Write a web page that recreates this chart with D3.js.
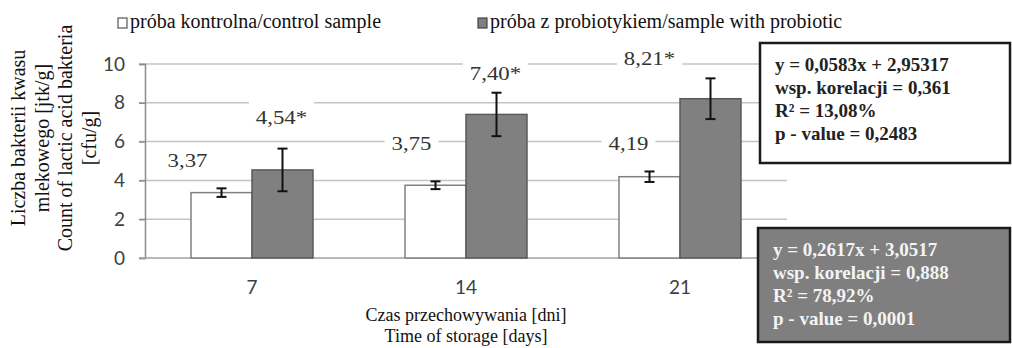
<!DOCTYPE html>
<html>
<head>
<meta charset="utf-8">
<script src="https://cdn.jsdelivr.net/npm/d3@7"></script>
<style>
  body { margin: 0; background: #fff; }
  svg { display: block; }
  .serif { font-family: "Liberation Serif", "DejaVu Serif", serif; }
  .sans { font-family: Lato, "Liberation Sans", sans-serif; }
</style>
</head>
<body>
<div class="canva"></div>
<script>
// data
const days = ["7", "14", "21"];
const seriesNames = ["próba kontrolna/control sample", "próba z probiotykiem/sample with probiotic"];
const control = [3.37, 3.75, 4.19];
const probiotic = [4.54, 7.40, 8.21];
const controlErr = [0.22, 0.20, 0.27];
const probioticErr = [1.10, 1.12, 1.05];
const significant = [false, true]; // "*" after the probiotic values
const yTicks = [0, 2, 4, 6, 8, 10];
const yTitle = ["Liczba bakterii kwasu", "mlekowego [jtk/g]", "Count of lactic acid bakteria", "[cfu/g]"];
const xTitle = ["Czas przechowywania [dni]", "Time of storage [days]"];
const statsControl = ["y = 0,0583x + 2,95317", "wsp. korelacji = 0,361", "R² = 13,08%", "p - value = 0,2483"];
const statsProbiotic = ["y = 0,2617x + 3,0517", "wsp. korelacji = 0,888", "R² = 78,92%", "p - value = 0,0001"];

// label placement (layout only): [dx px from bar centre, height in y units]
const labelNudge = [
  [[-34, 5.05], [-24, 5.93], [-21, 5.93]],
  [[-1, 7.27], [-1, 9.54], [-61, 10.3]]
];

const W = 1012, H = 348;
const plot = { left: 145, right: 787, top: 64, bottom: 258 };
const fillColors = ["#ffffff", "#808080"];
const strokeColors = ["#808080", "#5a5a5a"];

const pl = d3.formatLocale({ decimal: ",", thousands: " ", grouping: [3], currency: ["", ""] });
const fmt = pl.format(".2f");

const svg = d3.select(".canva").append("svg").attr("width", W).attr("height", H);

const y = d3.scaleLinear().domain([0, 10]).range([plot.bottom, plot.top]);
const x0 = d3.scaleBand().domain(days).range([plot.left, plot.right]).padding(0);
const groupW = x0.bandwidth() * 0.57;
const x1 = d3.scaleBand().domain([0, 1]).range([0, groupW]).padding(0);

// gridlines
svg.append("g")
  .selectAll("line")
  .data(yTicks.slice(1))
  .join("line")
  .attr("x1", plot.left - 6).attr("x2", plot.right)
  .attr("y1", d => y(d)).attr("y2", d => y(d))
  .attr("stroke", "#c4c4c4").attr("stroke-width", 1.5);

// y axis
const yAxis = svg.append("g")
  .attr("transform", `translate(${plot.left},0)`)
  .call(d3.axisLeft(y).tickValues(yTicks).tickSize(6).tickPadding(14));
yAxis.select(".domain").attr("stroke", "#8c8c8c").attr("stroke-width", 1.5);
yAxis.selectAll(".tick line").attr("stroke", "#8c8c8c").attr("stroke-width", 1.5);
yAxis.selectAll(".tick text")
  .attr("class", "sans").attr("font-size", 19).attr("fill", "#404040");

// x baseline
svg.append("line")
  .attr("x1", plot.left - 6).attr("x2", plot.right)
  .attr("y1", y(0)).attr("y2", y(0))
  .attr("stroke", "#a0a0a0").attr("stroke-width", 1.5);

// x tick labels
svg.append("g")
  .selectAll("text")
  .data(days)
  .join("text")
  .attr("class", "sans")
  .attr("x", d => x0(d) + x0.bandwidth() / 2)
  .attr("y", y(0) + 36)
  .attr("text-anchor", "middle")
  .attr("font-size", 19)
  .attr("fill", "#404040")
  .text(d => d);

// bars
const rows = days.map((d, i) => ({
  day: d,
  vals: [
    { s: 0, v: control[i], e: controlErr[i], i: i },
    { s: 1, v: probiotic[i], e: probioticErr[i], i: i }
  ]
}));

const groups = svg.append("g")
  .selectAll("g")
  .data(rows)
  .join("g")
  .attr("transform", d => `translate(${x0(d.day) + x0.bandwidth() / 2 - groupW / 2},0)`);

groups.selectAll("rect")
  .data(d => d.vals)
  .join("rect")
  .attr("x", d => x1(d.s))
  .attr("y", d => y(d.v))
  .attr("width", x1.bandwidth())
  .attr("height", d => y(0) - y(d.v))
  .attr("fill", d => fillColors[d.s])
  .attr("stroke", d => strokeColors[d.s])
  .attr("stroke-width", 1.5);

// error bars
const err = groups.selectAll("g.err")
  .data(d => d.vals)
  .join("g")
  .attr("class", "err")
  .attr("transform", d => `translate(${x1(d.s) + x1.bandwidth() / 2},0)`)
  .attr("stroke", "#111").attr("stroke-width", 2);
err.append("line").attr("y1", d => y(d.v + d.e)).attr("y2", d => y(d.v - d.e));
err.append("line").attr("x1", -5).attr("x2", 5).attr("y1", d => y(d.v + d.e)).attr("y2", d => y(d.v + d.e));
err.append("line").attr("x1", -5).attr("x2", 5).attr("y1", d => y(d.v - d.e)).attr("y2", d => y(d.v - d.e));

// value labels with white background
const lab = groups.selectAll("g.lab")
  .data(d => d.vals)
  .join("g")
  .attr("class", "lab")
  .attr("transform", d => {
    const n = labelNudge[d.s][d.i];
    return `translate(${x1(d.s) + x1.bandwidth() / 2 + n[0]},${y(n[1])})`;
  });
lab.append("text")
  .attr("class", "serif")
  .attr("text-anchor", "middle")
  .attr("dy", "0.35em")
  .attr("font-size", 19)
  .attr("fill", "#333")
  .attr("transform", "scale(1.2,1)")
  .text(d => fmt(d.v) + (significant[d.s] ? "*" : ""));
lab.each(function() {
  const g = d3.select(this);
  const b = g.select("text").node().getBBox();
  g.insert("rect", "text")
    .attr("x", b.x * 1.2 - 7).attr("width", b.width * 1.2 + 14)
    .attr("y", -16).attr("height", 29)
    .attr("fill", "#fff");
});

// legend
const legX = [118, 478];
const leg = svg.append("g")
  .selectAll("g")
  .data(seriesNames)
  .join("g")
  .attr("transform", (d, i) => `translate(${legX[i]},18)`);
leg.append("rect")
  .attr("width", 9).attr("height", 10)
  .attr("fill", (d, i) => fillColors[i])
  .attr("stroke", (d, i) => i ? "#444" : "#555").attr("stroke-width", 1.2);
leg.append("text")
  .attr("class", "serif")
  .attr("x", 12).attr("y", 10)
  .attr("font-size", 20)
  .attr("fill", "#111")
  .text(d => d);

// axis titles
svg.append("g")
  .selectAll("text")
  .data(yTitle)
  .join("text")
  .attr("class", "serif")
  .attr("transform", (d, i) => `translate(${25 + i * 23.5},138) rotate(-90)`)
  .attr("text-anchor", "middle")
  .attr("font-size", 20)
  .attr("fill", "#111")
  .text(d => d);

svg.append("g")
  .selectAll("text")
  .data(xTitle)
  .join("text")
  .attr("class", "serif")
  .attr("x", (plot.left + plot.right) / 2)
  .attr("y", (d, i) => 321 + i * 21)
  .attr("text-anchor", "middle")
  .attr("font-size", 18)
  .attr("fill", "#111")
  .text(d => d);

// regression boxes
function statsBox(lines, bx, by, bw, bh, fill, color) {
  const g = svg.append("g").attr("transform", `translate(${bx},${by})`);
  g.append("rect")
    .attr("width", bw).attr("height", bh)
    .attr("fill", fill).attr("stroke", "#1a1a1a").attr("stroke-width", 2.5);
  g.selectAll("text")
    .data(lines)
    .join("text")
    .attr("class", "serif")
    .attr("x", 15)
    .attr("y", (d, i) => 28 + i * 23)
    .attr("font-size", 19)
    .attr("font-weight", "bold")
    .attr("fill", color)
    .text(d => d);
}
statsBox(statsControl, 760, 43, 250, 120, "#fff", "#222");
statsBox(statsProbiotic, 758, 228, 252, 114, "#7f7f7f", "#f4f4f4");
</script>
</body>
</html>
